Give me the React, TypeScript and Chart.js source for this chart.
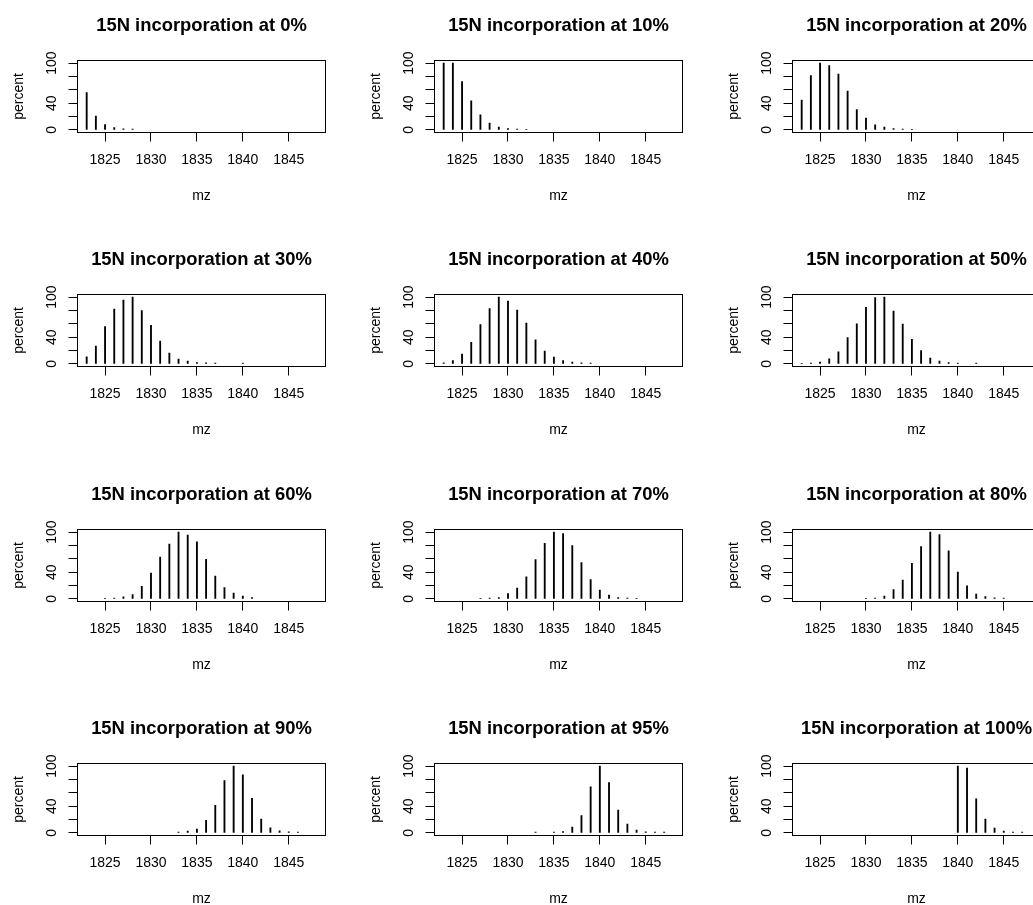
import React, { useEffect, useRef } from "react";
import { Chart, registerables } from "chart.js";

Chart.register(...registerables);

// m/z positions (x values of every spectrum line)
const mz = [
  1823, 1824, 1825, 1826, 1827, 1828, 1829, 1830, 1831, 1832, 1833, 1834, 1835,
  1836, 1837, 1838, 1839, 1840, 1841, 1842, 1843, 1844, 1845, 1846, 1847, 1848,
];

// relative intensities (percent), one entry per mz above
const pct0 = [56, 20.5, 8, 3.5, 1.5, 1, 0, 0, 0, 0, 0, 0, 0, 0, 0, 0, 0, 0, 0, 0, 0, 0, 0, 0, 0, 0];
const pct10 = [100, 100, 72.5, 43.5, 22.5, 10, 4, 2, 1, 0.7, 0, 0, 0, 0, 0, 0, 0, 0, 0, 0, 0, 0, 0, 0, 0, 0];
const pct20 = [44.5, 81.5, 100, 96.5, 83.5, 58, 30.5, 17.5, 7.5, 4, 2, 1, 0.7, 0, 0, 0, 0, 0, 0, 0, 0, 0, 0, 0, 0, 0];
const pct30 = [10.6, 26.8, 56, 82.3, 95.5, 100, 80, 57.6, 34.3, 16, 7, 4, 2, 1.5, 1, 0, 0, 1, 0, 0, 0, 0, 0, 0, 0, 0];
const pct40 = [1.5, 5, 14.6, 32.3, 59, 82.8, 100, 94, 80.8, 61, 35.9, 19.2, 10, 5, 2.5, 1.5, 1, 0, 0, 0, 0, 0, 0, 0, 0, 0];
const pct50 = [0.5, 1, 2.5, 7.6, 18, 39.4, 60, 84.8, 99.5, 100, 79.3, 59.6, 36.9, 19.7, 8.6, 4, 2, 1, 0, 1, 0, 0, 0, 0, 0, 0];
const pct60 = [0, 0, 0.5, 1, 3, 6.5, 18.6, 38.7, 62.8, 82, 100, 95.5, 85.4, 59.3, 34.2, 17, 8.5, 4, 2, 0, 0, 0, 0, 0, 0, 0];
const pct70 = [0, 0, 0, 0, 0.5, 1, 2, 8, 16, 33, 58.8, 83.4, 100, 98, 79.9, 54.3, 29, 13, 5.5, 2, 1, 0.5, 0, 0, 0, 0];
const pct80 = [0, 0, 0, 0, 0, 0, 0, 0.5, 1, 4, 14, 28, 53.3, 78.4, 100, 96.5, 71.9, 40.2, 19.6, 7, 3.5, 1.5, 1, 0, 0, 0];
const pct90 = [0, 0, 0, 0, 0, 0, 0, 0, 0, 0, 1, 2.5, 5.5, 18.6, 41.2, 78.4, 100, 86.9, 51.8, 20.6, 7.5, 3, 1.5, 1, 0, 0];
const pct95 = [0, 0, 0, 0, 0, 0, 0, 0, 0, 0, 1, 0, 1, 2, 8.5, 26, 69, 100, 75.4, 34, 13, 4, 1.5, 1, 1, 0];
const pct100 = [0, 0, 0, 0, 0, 0, 0, 0, 0, 0, 0, 0, 0, 0, 0, 0, 0, 100, 97, 51, 20.6, 7, 2.5, 1, 1, 0];

const titles = [
  "15N incorporation at 0%",
  "15N incorporation at 10%",
  "15N incorporation at 20%",
  "15N incorporation at 30%",
  "15N incorporation at 40%",
  "15N incorporation at 50%",
  "15N incorporation at 60%",
  "15N incorporation at 70%",
  "15N incorporation at 80%",
  "15N incorporation at 90%",
  "15N incorporation at 95%",
  "15N incorporation at 100%",
];
const series = [pct0, pct10, pct20, pct30, pct40, pct50, pct60, pct70, pct80, pct90, pct95, pct100];

const xTicks = [1825, 1830, 1835, 1840, 1845];
const yTicks = [0, 20, 40, 60, 80, 100];
const yTickLabels = ["0", "", "40", "", "", "100"];
const xLabel = "mz";
const yLabel = "percent";

const FONT = "'Liberation Sans', Arial, Helvetica, sans-serif";
const W = 357;
const H = 234;
const AREA_L = 77.5;
const AREA_T = 60.5;
const AREA_R = 325.5;
const AREA_B = 132.5;
const COL_X = [0, 357, 715];
const ROW_Y = [0, 234, 469, 703];

const boxPlugin = {
  id: "rbox",
  afterDraw(chart: any) {
    const { ctx, chartArea: a } = chart;
    ctx.save();
    ctx.strokeStyle = "#000";
    ctx.lineWidth = 1;
    ctx.strokeRect(a.left, a.top, a.right - a.left, a.bottom - a.top);
    ctx.restore();
  },
};

function Panel({ title, values, left, top }: { title: string; values: number[]; left: number; top: number }) {
  const ref = useRef<HTMLCanvasElement>(null);
  useEffect(() => {
    const points = mz
      .map((x, i) => ({ x, y: values[i] }))
      .filter((p) => p.y > 0);
    const chart = new Chart(ref.current as HTMLCanvasElement, {
      type: "bar",
      data: {
        datasets: [
          {
            data: points,
            backgroundColor: "#000",
            borderWidth: 0,
            barThickness: 1.2,
          } as any,
        ],
      },
      options: {
        responsive: false,
        animation: false,
        devicePixelRatio: 1,
        layout: { padding: { left: 0, top: 0, right: W - AREA_R, bottom: 0 } },
        plugins: {
          legend: { display: false },
          tooltip: { enabled: false },
          title: {
            display: true,
            text: title,
            fullSize: false,
            color: "#000",
            font: { family: FONT, size: 18.4, weight: "bold", lineHeight: 1 },
            padding: { top: 17, bottom: AREA_T - 17 - 18.4 },
          },
        },
        scales: {
          x: {
            type: "linear",
            min: 1822,
            max: 1849,
            offset: false,
            afterBuildTicks: (s: any) => {
              s.ticks = xTicks.map((v) => ({ value: v }));
            },
            afterFit: (s: any) => {
              s.height = H - AREA_B;
            },
            grid: {
              display: true,
              offset: false,
              drawOnChartArea: false,
              drawTicks: true,
              tickLength: 9,
              color: "#000",
              lineWidth: 1,
            },
            border: { display: false },
            ticks: {
              color: "#000",
              font: { family: FONT, size: 14, lineHeight: 1 },
              padding: 11.2,
              maxRotation: 0,
              minRotation: 0,
              autoSkip: false,
              callback: (v: any) => String(v),
            },
            title: {
              display: true,
              text: xLabel,
              color: "#000",
              font: { family: FONT, size: 14, lineHeight: 1 },
              padding: { top: 0, bottom: 31.3 },
            },
          },
          y: {
            type: "linear",
            min: -4,
            max: 104,
            afterBuildTicks: (s: any) => {
              s.ticks = yTicks.map((v) => ({ value: v }));
            },
            afterFit: (s: any) => {
              s.width = AREA_L;
            },
            grid: {
              display: true,
              offset: false,
              drawOnChartArea: false,
              drawTicks: true,
              tickLength: 9,
              color: "#000",
              lineWidth: 1,
            },
            border: { display: false },
            ticks: {
              color: "#000",
              font: { family: FONT, size: 14, lineHeight: 1 },
              padding: 4.4,
              minRotation: 90,
              maxRotation: 90,
              crossAlign: "center",
              autoSkip: false,
              callback: (v: any) => {
                const i = yTicks.indexOf(Number(v));
                return i >= 0 ? yTickLabels[i] : "";
              },
            },
            title: {
              display: true,
              text: yLabel,
              color: "#000",
              font: { family: FONT, size: 14, lineHeight: 1 },
              padding: { top: 12.5, bottom: 0 },
            },
          },
        },
      } as any,
      plugins: [boxPlugin],
    });
    return () => chart.destroy();
  }, [title, values]);
  return (
    <canvas
      ref={ref}
      width={W}
      height={H}
      style={{ position: "absolute", left, top, width: W, height: H, display: "block" }}
    />
  );
}

export default function App() {
  return (
    <div
      style={{
        position: "fixed",
        left: 0,
        top: 0,
        width: 1033,
        height: 905,
        overflow: "hidden",
        background: "#fff",
      }}
    >
      {titles.map((t, i) => (
        <Panel
          key={t}
          title={t}
          values={series[i]}
          left={COL_X[i % 3]}
          top={ROW_Y[Math.floor(i / 3)]}
        />
      ))}
    </div>
  );
}
